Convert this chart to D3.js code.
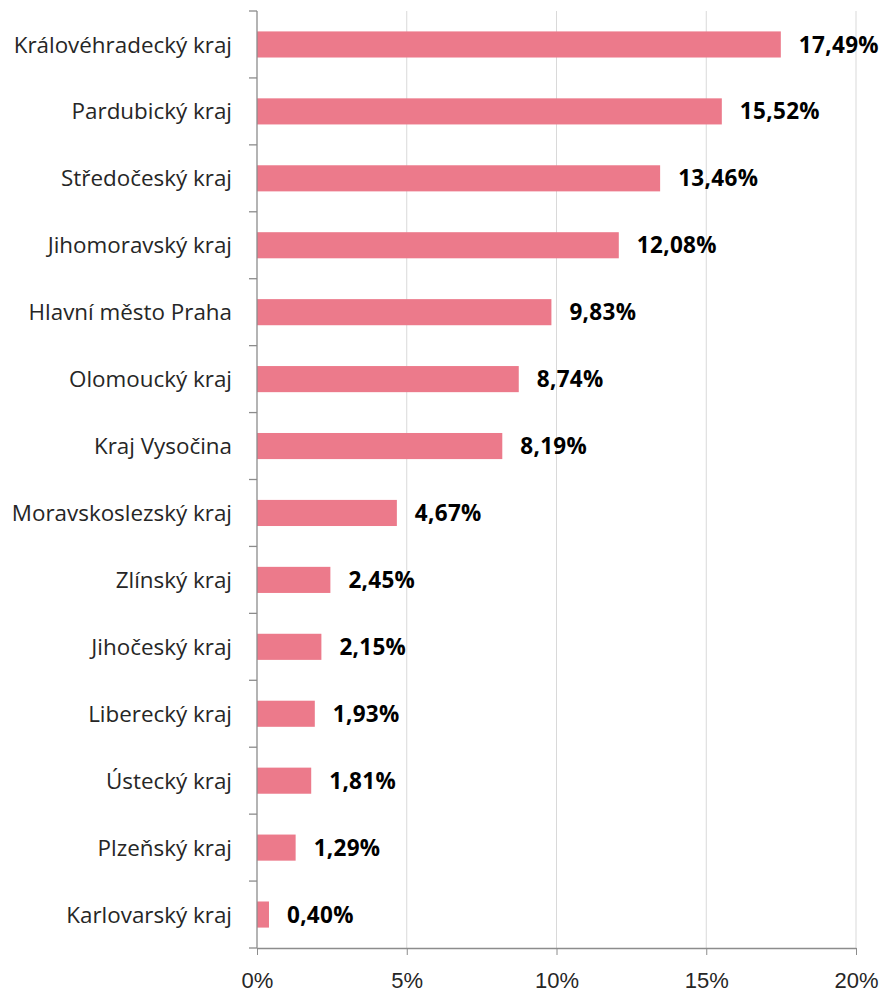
<!DOCTYPE html>
<html>
<head>
<meta charset="utf-8">
<script src="https://cdn.jsdelivr.net/npm/d3@7"></script>
<style>
  body { margin: 0; background: #fff; }
  svg { font-family: "Open Sans", "Noto Sans", sans-serif; }
</style>
</head>
<body>
<svg width="882" height="994"></svg>
<script>
//  Data
const regions = ['Královéhradecký kraj', 'Pardubický kraj', 'Středočeský kraj', 'Jihomoravský kraj',
    'Hlavní město Praha', 'Olomoucký kraj', 'Kraj Vysočina', 'Moravskoslezský kraj', 'Zlínský kraj',
    'Jihočeský kraj', 'Liberecký kraj', 'Ústecký kraj', 'Plzeňský kraj', 'Karlovarský kraj'];
const shares = [17.49, 15.52, 13.46, 12.08, 9.83, 8.74, 8.19, 4.67, 2.45, 2.15, 1.93, 1.81, 1.29, 0.40];
const xTicks = [0, 5, 10, 15, 20];

const svg = d3.select('svg');
const margin = { top: 11, left: 257, right: 26, bottom: 46 };
const width = 882, height = 994;

const xScale = d3.scaleLinear()
    .domain([0, 20])
    .range([margin.left, width - margin.right]);

const yScale = d3.scaleBand()
    .domain(regions)
    .range([margin.top, height - margin.bottom])
    .paddingInner(0.61)
    .paddingOuter(0.305);

const fmt = v => v.toFixed(2).replace('.', ',') + '%';

//  Gridlines
svg.append('g')
    .selectAll('line')
    .data(xTicks.slice(1))
    .enter()
    .append('line')
    .attr('x1', d => xScale(d)).attr('x2', d => xScale(d))
    .attr('y1', margin.top).attr('y2', height - margin.bottom)
    .attr('stroke', '#d9d9d9')
    .attr('stroke-width', 1);

//  Bars
svg.append('g')
    .selectAll('rect')
    .data(regions)
    .enter()
    .append('rect')
    .attr('x', xScale(0))
    .attr('y', d => yScale(d))
    .attr('width', (d, i) => xScale(shares[i]) - xScale(0))
    .attr('height', yScale.bandwidth())
    .attr('fill', '#ec7a8b');

//  Value labels
svg.append('g')
    .selectAll('text')
    .data(regions)
    .enter()
    .append('text')
    .attr('x', (d, i) => xScale(shares[i]) + 18)
    .attr('y', d => yScale(d) + yScale.bandwidth() / 2)
    .attr('dy', '0.36em')
    .attr('font-size', 22.5)
    .attr('font-weight', 'bold')
    .attr('fill', '#000')
    .attr('textLength', (d, i) => fmt(shares[i]).length * 13.3)
    .text((d, i) => fmt(shares[i]));

//  X axis
const xAxis = d3.axisBottom(xScale)
    .tickValues(xTicks)
    .tickFormat(d => d + '%')
    .tickSizeInner(7)
    .tickSizeOuter(0)
    .tickPadding(17);

const xAxisGroup = svg.append('g')
    .attr('transform', `translate(0, ${height - margin.bottom})`)
    .call(xAxis);
xAxisGroup.selectAll('text').attr('font-size', 22).attr('fill', '#262626').attr('font-family', null);
xAxisGroup.selectAll('line, path').attr('stroke', '#8c8c8c');
xAxisGroup.select('.domain').attr('stroke-width', 1.3);

//  Y axis: ticks on band boundaries
const yAxisGroup = svg.append('g');
const step = yScale.step();
const boundaries = d3.range(regions.length + 1).map(i => margin.top + i * step);

yAxisGroup.append('line')
    .attr('x1', margin.left).attr('x2', margin.left)
    .attr('y1', margin.top).attr('y2', height - margin.bottom)
    .attr('stroke', '#8c8c8c')
    .attr('stroke-width', 1.3);

yAxisGroup.selectAll('.tick')
    .data(boundaries)
    .enter()
    .append('line')
    .attr('x1', margin.left - 8).attr('x2', margin.left)
    .attr('y1', d => d).attr('y2', d => d)
    .attr('stroke', '#8c8c8c')
    .attr('stroke-width', 1.3);

yAxisGroup.selectAll('text')
    .data(regions)
    .enter()
    .append('text')
    .attr('x', margin.left - 25)
    .attr('y', d => yScale(d) + yScale.bandwidth() / 2)
    .attr('dy', '0.36em')
    .attr('text-anchor', 'end')
    .attr('font-size', 22.4)
    .attr('fill', '#262626')
    .text(d => d);
</script>
</body>
</html>
